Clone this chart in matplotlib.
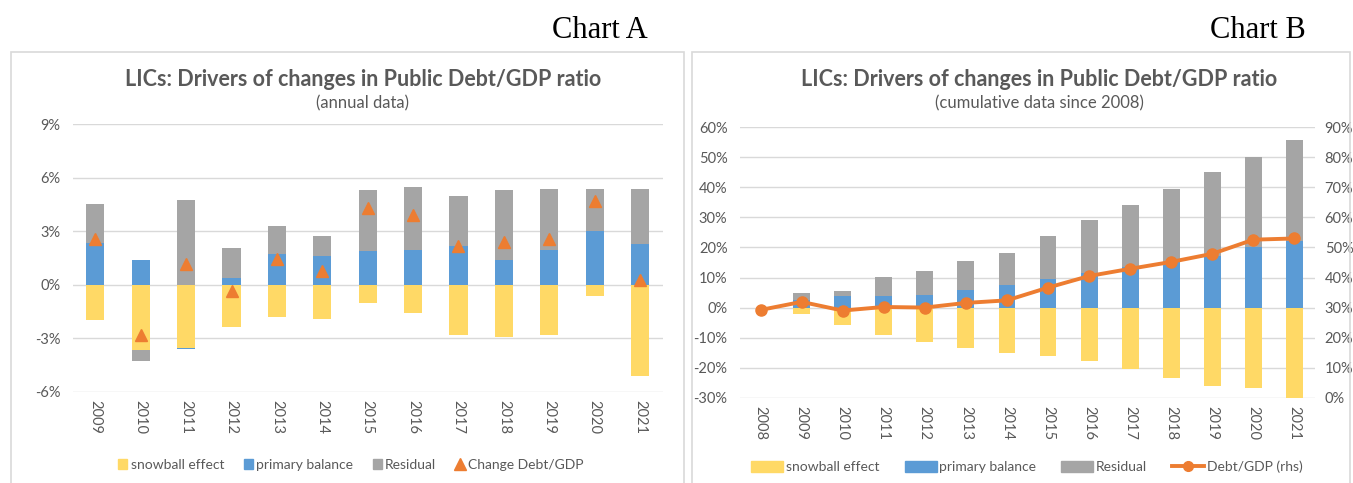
import numpy as np
import matplotlib
matplotlib.use("Agg")
import matplotlib.pyplot as plt
from matplotlib.patches import Rectangle, Patch
from matplotlib.lines import Line2D

# ---------------- data ----------------
years_a = ["2009", "2010", "2011", "2012", "2013", "2014", "2015", "2016", "2017", "2018", "2019", "2020", "2021"]
snowball_a = [-1.96, -3.68, -3.54, -2.37, -1.83, -1.92, -1.03, -1.57, -2.80, -2.95, -2.80, -0.63, -5.13]
primary_a = [2.35, 1.40, -0.05, 0.35, 1.74, 1.60, 1.87, 1.92, 2.15, 1.36, 1.96, 3.00, 2.26]
residual_a = [2.18, -0.58, 4.72, 1.68, 1.52, 1.11, 3.43, 3.55, 2.83, 3.94, 3.38, 2.34, 3.11]
change_a = [2.57, -2.85, 1.18, -0.34, 1.44, 0.77, 4.29, 3.88, 2.18, 2.39, 2.57, 4.68, 0.28]

years_b = ["2008", "2009", "2010", "2011", "2012", "2013", "2014", "2015", "2016", "2017", "2018", "2019", "2020", "2021"]
snowball_b = [0, -2.0, -5.77, -9.1, -11.5, -13.3, -15.2, -16.2, -17.7, -20.6, -23.5, -26.1, -26.9, -30.2]
primary_b = [0, 2.6, 3.88, 3.88, 4.2, 5.9, 7.5, 9.4, 11.4, 13.6, 15.3, 17.0, 20.2, 22.2]
residual_b = [0, 2.17, 1.55, 6.3, 8.1, 9.7, 10.8, 14.4, 17.6, 20.7, 24.2, 28.1, 30.0, 33.6]
debt_b = [29.2, 31.9, 29.0, 30.2, 30.0, 31.55, 32.4, 36.65, 40.5, 42.9, 45.2, 47.9, 52.6, 53.0]

title = "LICs: Drivers of changes in Public Debt/GDP ratio"

# ---------------- style ----------------
YEL, BLU, GRY, ORG = "#FFD966", "#5B9BD5", "#A5A5A5", "#ED7D31"
TXT = "#595959"
GRID = "#D9D9D9"
plt.rcParams['font.family'] = ['Lato', 'DejaVu Sans']
TICK_FS = 10.5

W, H = 1353, 483
fig = plt.figure(figsize=(W / 100, H / 100), dpi=100)


def rect(x0, y0, x1, y1):
    return [x0 / W, 1 - y1 / H, (x1 - x0) / W, (y1 - y0) / H]


# panel borders
for (x0, x1) in [(11, 684), (692, 1350)]:
    fig.patches.append(Rectangle((x0 / W, -0.05), (x1 - x0) / W, 1 - 52 / H + 0.05,
                                 transform=fig.transFigure, fill=False,
                                 edgecolor=GRID, lw=1.2))


def stack(ax, series, colors, width):
    n = len(series[0])
    x = np.arange(n)
    pos = np.zeros(n)
    neg = np.zeros(n)
    for vals, c in zip(series, colors):
        v = np.array(vals, dtype=float)
        bottom = np.where(v >= 0, pos, neg)
        ax.bar(x, v, width, bottom=bottom, color=c, zorder=2)
        pos += np.clip(v, 0, None)
        neg += np.clip(v, None, 0)
    return x


def style_ax(ax, labels, ylim, yticks):
    ax.set_ylim(*ylim)
    ax.set_xlim(-0.5, len(labels) - 0.5)
    ax.set_yticks(yticks)
    ax.set_yticklabels([f"{t:.0f}%" for t in yticks], color=TXT, fontsize=TICK_FS)
    ax.set_xticks(np.arange(len(labels)))
    ax.set_xticklabels(labels, rotation=270, color=TXT, fontsize=TICK_FS)
    for s in ax.spines.values():
        s.set_visible(False)
    ax.tick_params(length=0, pad=9)
    ax.tick_params(axis='x', pad=6)
    ax.grid(axis='y', color=GRID, lw=1, zorder=0)
    ax.set_axisbelow(True)


# ---------------- Chart A ----------------
axA = fig.add_axes(rect(72.7, 124, 662.7, 391.7))
xa = stack(axA, [snowball_a, primary_a, residual_a], [YEL, BLU, GRY], 0.4)
axA.plot(xa, change_a, linestyle='none', marker='^', markersize=8, color=ORG, zorder=3)
style_ax(axA, years_a, (-6, 9), [-6, -3, 0, 3, 6, 9])

fig.text(363 / W, 1 - 80 / H, title, ha='center', va='center', fontsize=15.5,
         fontweight='bold', color=TXT)
fig.text(363 / W, 1 - 103 / H, "(annual data)", ha='center', va='center', fontsize=12, color=TXT)
fig.text(648 / W, 1 - 31 / H, "Chart A", ha='right', va='center', fontsize=22,
         family=['Liberation Serif', 'DejaVu Serif'], color='black')

hA = [Patch(color=YEL), Patch(color=BLU), Patch(color=GRY),
      Line2D([], [], linestyle='none', marker='^', color=ORG, markersize=8)]
fig.legend(hA, ["snowball effect", "primary balance", "Residual", "Change Debt/GDP"],
           loc='center', bbox_to_anchor=(351 / W, 1 - 465 / H), ncol=4, frameon=False,
           fontsize=10, handlelength=0.65, handleheight=0.75, handletextpad=0.25,
           columnspacing=1.4, labelcolor=TXT)

# ---------------- Chart B ----------------
axB = fig.add_axes(rect(740, 127.3, 1315, 397.7))
xb = stack(axB, [snowball_b, primary_b, residual_b], [YEL, BLU, GRY], 0.41)
style_ax(axB, years_b, (-30, 60), list(range(-30, 61, 10)))
axB2 = axB.twinx()
axB2.plot(xb, debt_b, color=ORG, lw=2.8, marker='o', markersize=8, zorder=3)
axB2.set_ylim(0, 90)
axB2.set_yticks(range(0, 91, 10))
axB2.set_yticklabels([f"{t}%" for t in range(0, 91, 10)], color=TXT, fontsize=TICK_FS)
axB2.tick_params(length=0, pad=7)
for s in axB2.spines.values():
    s.set_visible(False)

fig.text(1039 / W, 1 - 80 / H, title, ha='center', va='center', fontsize=15.5,
         fontweight='bold', color=TXT)
fig.text(1039 / W, 1 - 103 / H, "(cumulative data since 2008)", ha='center', va='center',
         fontsize=12, color=TXT)
fig.text(1306 / W, 1 - 31 / H, "Chart B", ha='right', va='center', fontsize=22,
         family=['Liberation Serif', 'DejaVu Serif'], color='black')

hB = [Patch(color=YEL), Patch(color=BLU), Patch(color=GRY),
      Line2D([], [], color=ORG, lw=2.8, marker='o', markersize=7)]
fig.legend(hB, ["snowball effect", "primary balance", "Residual", "Debt/GDP (rhs)"],
           loc='center', bbox_to_anchor=(1027 / W, 1 - 467 / H), ncol=4, frameon=False,
           fontsize=10, handlelength=2.3, handleheight=0.8, handletextpad=0.2,
           columnspacing=1.8, labelcolor=TXT)

fig.savefig("out.png", dpi=100)
